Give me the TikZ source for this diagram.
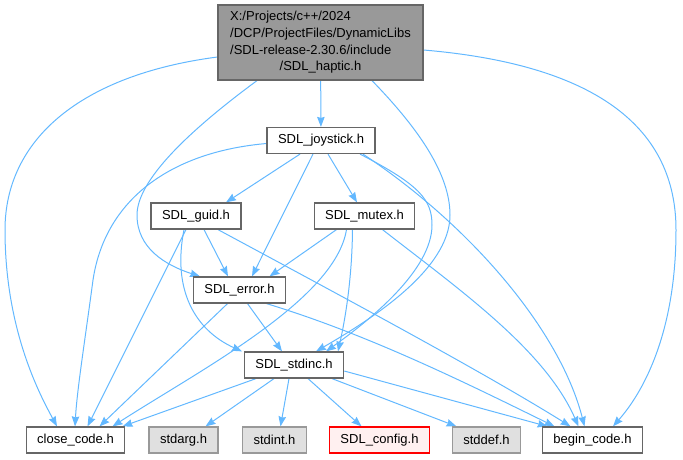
\documentclass[tikz,border=0pt]{standalone}
\usepackage{fontspec}
\setmainfont{Liberation Sans}
\usetikzlibrary{arrows.meta,backgrounds}
\definecolor{dedge}{HTML}{63B8FF}
\definecolor{dframe}{HTML}{666666}
\definecolor{proot}{HTML}{999999}
\definecolor{pext}{HTML}{E0E0E0}
\definecolor{dext}{HTML}{999999}
\definecolor{pmiss}{HTML}{FFF0F0}
\definecolor{dmiss}{HTML}{FF0000}
\tikzset{
  % Doxygen style header boxes: plain, system (grey) and not found (red).
  hdr/.style    = {rectangle, draw=dframe, fill=white, line width=1.2pt, inner xsep=11pt,
                   inner ysep=0pt, minimum height=26pt, font=\fontsize{13}{16.7}\selectfont},
  sysh/.style   = {hdr, draw=dext, fill=pext},
  missh/.style  = {hdr, draw=dmiss, fill=pmiss},
  rooth/.style  = {hdr, fill=proot, minimum width=205pt, minimum height=75pt},
  dep/.style    = {-{Stealth[length=10pt,width=7.5pt,inset=1pt]}, dedge, line width=1pt},
}

\begin{document}
\begin{tikzpicture}[x=1pt,y=-1pt]
\useasboundingbox (0,0) rectangle (683,459);
% header boxes
\node[rooth] (haptic) at (320.5,42.5) {\begin{tabular}{@{}l@{}}X:/Projects/c++/2024\\/DCP/ProjectFiles/DynamicLibs\\/SDL-release-2.30.6/include\\\multicolumn{1}{@{}c@{}}{/SDL\_haptic.h}\end{tabular}};
\node[hdr] (joystick) at (321,140.5) {SDL\_joystick.h};
\node[hdr] (guid) at (196,216) {SDL\_guid.h};
\node[hdr] (mutex) at (364.5,216) {SDL\_mutex.h};
\node[hdr] (error) at (239.5,290) {SDL\_error.h};
\node[hdr] (stdinc) at (294,365) {SDL\_stdinc.h};
\node[hdr] (close) at (75.5,440) {close\_code.h};
\node[sysh] (stdarg) at (183.5,440) {stdarg.h};
\node[sysh] (stdint) at (274.5,440) {stdint.h};
\node[missh] (config) at (379.5,440) {SDL\_config.h};
\node[sysh] (stddef) at (486.5,440) {stddef.h};
\node[hdr] (begin) at (592.5,440) {begin\_code.h};
\begin{scope}[on background layer]
% from SDL_haptic.h
\draw[dep] (haptic) -- (joystick);
\draw[dep] ([yshift=-14.5pt]haptic.west) .. controls (80,75) and (5,140) .. (5,230)
      .. controls (5,330) and (40,395) .. ([xshift=-18.5pt]close.north);
\draw[dep] ([xshift=-63.5pt]haptic.south) .. controls (190,130) and (137,180) .. (137,215)
      .. controls (137,248) and (165,265) .. ([xshift=-39.5pt]error.north);
\draw[dep] ([xshift=51.5pt]haptic.south) .. controls (420,130) and (450,175) .. (450,215)
      .. controls (450,270) and (370,320) .. ([xshift=22pt]stdinc.north);
\draw[dep] ([yshift=-7.5pt]haptic.east) .. controls (600,65) and (676,130) .. (676,230)
      .. controls (676,330) and (645,390) .. ([xshift=20.5pt]begin.north);
% from SDL_joystick.h
\draw[dep] ([xshift=-21pt]joystick.south) -- ([xshift=30pt]guid.north);
\draw[dep] ([xshift=7pt]joystick.south) -- ([xshift=-7.5pt]mutex.north);
\draw[dep] ([xshift=-8pt]joystick.south) -- ([xshift=12.5pt]error.north);
\draw[dep] ([yshift=-3pt]joystick.west) .. controls (170,152) and (105,200) .. (93,280)
      .. controls (85,340) and (77,390) .. ([xshift=-0.5pt]close.north);
\draw[dep] ([xshift=39pt]joystick.south) .. controls (420,185) and (432,200) .. (432,225)
      .. controls (432,270) and (370,320) .. ([xshift=32pt]stdinc.north);
\draw[dep] ([xshift=42pt]joystick.south) .. controls (470,225) and (560,330) .. ([xshift=-8pt]begin.north);
% from SDL_guid.h
\draw[dep] ([xshift=8pt]guid.south) -- ([xshift=-11.5pt]error.north);
\draw[dep] ([xshift=-10pt]guid.south) -- ([xshift=12pt]close.north);
\draw[dep] ([xshift=-12pt]guid.south) .. controls (172,290) and (195,330) .. ([xshift=-52pt]stdinc.north);
\draw[dep] ([xshift=22pt]guid.south) .. controls (330,290) and (480,370) .. ([xshift=-22pt]begin.north);
% from SDL_mutex.h
\draw[dep] ([xshift=-28pt]mutex.south) -- ([xshift=30pt]error.north);
\draw[dep] ([xshift=-12pt]mutex.south) .. controls (352,280) and (345,320) .. ([xshift=44pt]stdinc.north);
\draw[dep] ([xshift=-18pt]mutex.south) .. controls (335,300) and (200,370) .. ([xshift=37pt]close.north);
\draw[dep] ([xshift=18pt]mutex.south) .. controls (460,290) and (545,350) .. ([xshift=-14pt]begin.north);
% from SDL_error.h
\draw[dep] ([xshift=-12pt]error.south) -- ([xshift=24pt]close.north);
\draw[dep] ([xshift=8pt]error.south) -- ([xshift=-12pt]stdinc.north);
\draw[dep] ([xshift=27pt]error.south) .. controls (370,335) and (470,385) .. ([xshift=-38pt]begin.north);
% from SDL_stdinc.h
\draw[dep] ([xshift=-38pt]stdinc.south) -- ([xshift=47pt]close.north);
\draw[dep] ([xshift=-20pt]stdinc.south) -- ([xshift=22pt]stdarg.north);
\draw[dep] ([xshift=-5pt]stdinc.south) -- ([xshift=6pt]stdint.north);
\draw[dep] ([xshift=14pt]stdinc.south) -- ([xshift=-18pt]config.north);
\draw[dep] ([xshift=38pt]stdinc.south) -- ([xshift=-30pt]stddef.north);
\draw[dep] ([yshift=-6pt]stdinc.east) -- ([xshift=-45pt]begin.north);
\end{scope}
\end{tikzpicture}
\end{document}
